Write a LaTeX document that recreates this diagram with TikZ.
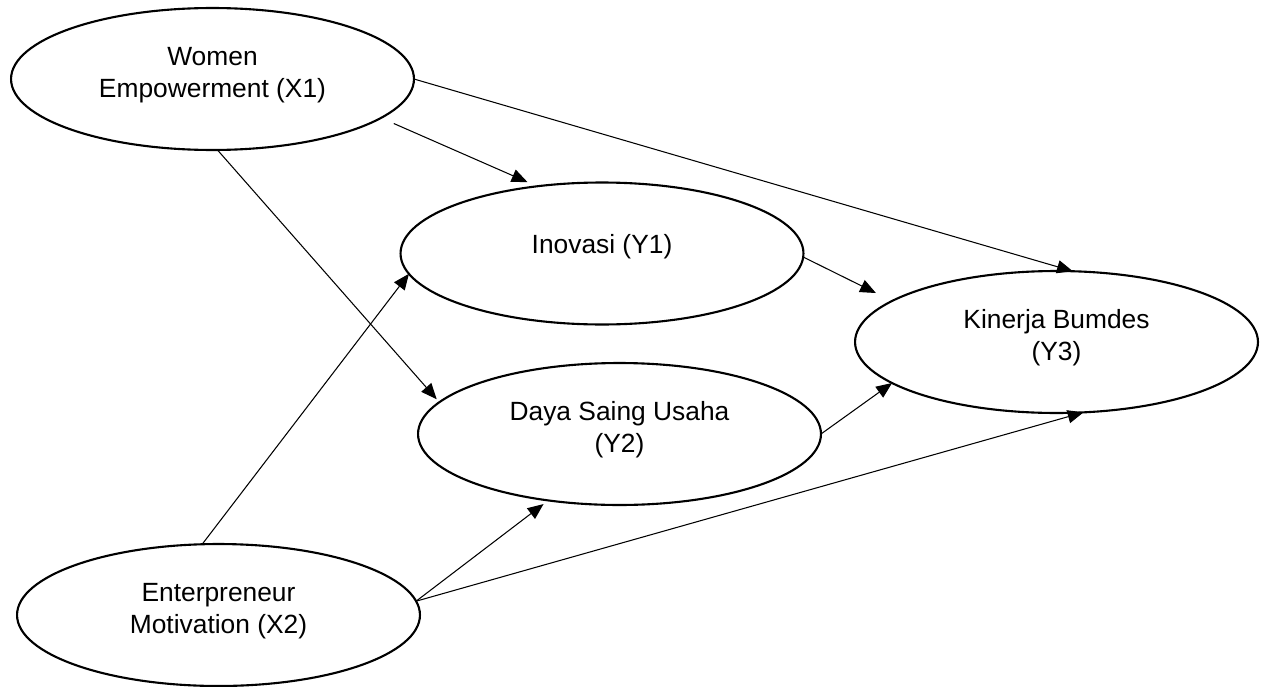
\documentclass[tikz,border=0pt]{standalone}
\usepackage{fontspec}
\setmainfont{Liberation Sans}
\usetikzlibrary{arrows.meta,shapes.geometric}

\newcommand{\varname}[1]{\begin{tabular}[b]{@{}c@{}}#1\end{tabular}}

\begin{document}
\begin{tikzpicture}[x=0.02cm,y=-0.02cm,
    latent/.style={draw, ellipse, line width=1.2pt, inner sep=0pt, outer sep=0pt,
        minimum width=8.06cm, minimum height=2.84cm,
        font=\fontsize{15pt}{18pt}\selectfont, text depth=10pt},
    link/.style={line width=0.6pt, -{Triangle[length=9pt,width=7.5pt]}}]
    \useasboundingbox (0,0) rectangle (1266,686);

    % latent variables
    \node[latent] (x1) at (212.5,79) {\varname{Women\\Empowerment (X1)}};
    \node[latent] (x2) at (218.5,615) {\varname{Enterpreneur\\Motivation (X2)}};
    \node[latent, text depth=12.7pt] (y1) at (602,253.5) {\varname{Inovasi (Y1)}};
    \node[latent] (y2) at (619.5,434) {\varname{Daya Saing Usaha\\(Y2)}};
    \node[latent] (y3) at (1056.5,342) {\varname{Kinerja Bumdes\\(Y3)}};

    % paths
    \draw[link] (x1.east) -- (y3.77);
    \draw[link, shorten <=0.28cm, shorten >=0.21cm] (x1.-13) -- (y1.134);
    \draw[link, shorten >=0.08cm] (x1.-86) -- (y2.170);
    \draw[link] (x2.103) -- (y1.186);
    \draw[link, shorten >=0.12cm] (x2.4) -- (y2.-137.5);
    \draw[link] (x2.4) -- (y3.-69);
    \draw[link, shorten >=0.36cm] (y1.-1) -- (y3.166);
    \draw[link] (y2.east) -- (y3.-166.5);
\end{tikzpicture}
\end{document}
